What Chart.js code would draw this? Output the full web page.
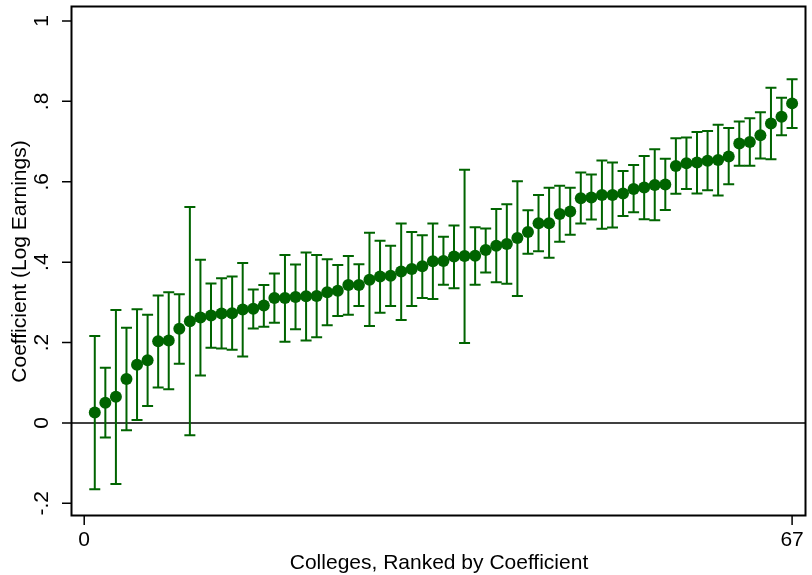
<!DOCTYPE html>
<html>
<head>
<meta charset="utf-8">
<script src="https://cdn.jsdelivr.net/npm/chart.js@4/dist/chart.umd.min.js"></script>
<style>
  html, body { margin: 0; padding: 0; background: #ffffff; }
  #wrap { width: 812px; height: 575px; }
</style>
</head>
<body>
<div id="wrap"><canvas id="c" width="812" height="575"></canvas></div>
<script>
// ---- data ----
const ranks = [1,2,3,4,5,6,7,8,9,10,11,12,13,14,15,16,17,18,19,20,21,22,23,24,25,26,27,28,29,30,31,32,33,34,35,36,37,38,39,40,41,42,43,44,45,46,47,48,49,50,51,52,53,54,55,56,57,58,59,60,61,62,63,64,65,66,67];
const coef = [0.026,0.050,0.065,0.109,0.145,0.156,0.203,0.205,0.234,0.253,
              0.262,0.267,0.272,0.273,0.282,0.284,0.292,0.311,0.311,0.313,
              0.315,0.316,0.325,0.329,0.343,0.343,0.356,0.364,0.366,0.377,
              0.383,0.390,0.402,0.403,0.414,0.415,0.416,0.430,0.441,0.445,
              0.460,0.475,0.497,0.497,0.520,0.526,0.559,0.561,0.567,0.567,
              0.571,0.582,0.586,0.592,0.593,0.639,0.646,0.648,0.652,0.654,
              0.663,0.695,0.699,0.716,0.745,0.762,0.795];
const ciHigh = [0.216,0.137,0.281,0.237,0.283,0.269,0.317,0.325,0.320,0.537,
                0.406,0.347,0.360,0.364,0.398,0.332,0.343,0.372,0.418,0.394,
                0.424,0.418,0.407,0.393,0.415,0.395,0.473,0.453,0.441,0.496,
                0.475,0.467,0.496,0.463,0.491,0.630,0.487,0.484,0.532,0.544,
                0.601,0.529,0.567,0.585,0.590,0.585,0.623,0.618,0.653,0.648,
                0.627,0.642,0.664,0.681,0.657,0.708,0.710,0.724,0.726,0.742,
                0.734,0.750,0.758,0.773,0.834,0.809,0.855];
const ciLow = [-0.165,-0.036,-0.152,-0.018,0.007,0.042,0.088,0.084,0.147,-0.031,
               0.118,0.187,0.185,0.182,0.165,0.235,0.239,0.249,0.202,0.233,
               0.205,0.213,0.243,0.266,0.269,0.291,0.241,0.274,0.291,0.256,
               0.291,0.311,0.308,0.344,0.335,0.199,0.344,0.374,0.350,0.346,
               0.316,0.421,0.427,0.411,0.451,0.468,0.496,0.506,0.483,0.486,
               0.515,0.524,0.507,0.504,0.530,0.570,0.582,0.571,0.579,0.566,
               0.594,0.640,0.640,0.658,0.656,0.716,0.734];
const xTicks = [0, 67];
const xTickLabels = ["0", "67"];
const yTicks = [-0.2, 0, 0.2, 0.4, 0.6, 0.8, 1];
const yTickLabels = ["-.2", "0", ".2", ".4", ".6", ".8", "1"];
const xTitle = "Colleges, Ranked by Coefficient";
const yTitle = "Coefficient (Log Earnings)";

// ---- styles ----
const GREEN = "#006400";
const FONT = '"Liberation Sans Narrow", "Liberation Sans", Arial, sans-serif';

const errorBars = {
  id: 'errorBars',
  beforeDatasetsDraw(chart) {
    const {ctx, scales: {x, y}, chartArea} = chart;
    ctx.save();
    // zero reference line
    ctx.strokeStyle = '#000';
    ctx.lineWidth = 1.5;
    ctx.beginPath();
    const y0 = y.getPixelForValue(0);
    ctx.moveTo(chartArea.left, y0);
    ctx.lineTo(chartArea.right, y0);
    ctx.stroke();
    // caps and whiskers
    ctx.strokeStyle = GREEN;
    ctx.lineWidth = 2;
    const cap = 5.5;
    for (let i = 0; i < ranks.length; i++) {
      const px = x.getPixelForValue(ranks[i]);
      const pHi = y.getPixelForValue(ciHigh[i]);
      const pLo = y.getPixelForValue(ciLow[i]);
      ctx.beginPath();
      ctx.moveTo(px, pHi); ctx.lineTo(px, pLo);
      ctx.moveTo(px - cap, pHi); ctx.lineTo(px + cap, pHi);
      ctx.moveTo(px - cap, pLo); ctx.lineTo(px + cap, pLo);
      ctx.stroke();
    }
    ctx.restore();
  }
};

const frameAxes = {
  id: 'frameAxes',
  beforeDraw(chart) {
    const ctx = chart.ctx;
    ctx.save();
    ctx.fillStyle = '#fff';
    ctx.fillRect(0, 0, chart.width, chart.height);
    ctx.restore();
  },
  afterDraw(chart) {
    const {ctx, scales: {x, y}, chartArea: a} = chart;
    ctx.save();
    ctx.strokeStyle = '#000';
    ctx.lineWidth = 2;
    ctx.strokeRect(a.left - 0.5, a.top - 0.5, a.right - a.left, a.bottom - a.top);
    // ticks
    ctx.lineWidth = 1.5;
    ctx.beginPath();
    yTicks.forEach(v => {
      const py = y.getPixelForValue(v);
      ctx.moveTo(a.left - 10, py); ctx.lineTo(a.left, py);
    });
    xTicks.forEach(v => {
      const px = x.getPixelForValue(v);
      ctx.moveTo(px, a.bottom); ctx.lineTo(px, a.bottom + 9);
    });
    ctx.stroke();
    // labels
    ctx.fillStyle = '#000';
    ctx.font = '21px ' + FONT;
    ctx.textAlign = 'center';
    ctx.textBaseline = 'alphabetic';
    xTicks.forEach((v, i) => {
      ctx.fillText(xTickLabels[i], x.getPixelForValue(v), 546);
    });
    yTicks.forEach((v, i) => {
      const py = y.getPixelForValue(v);
      ctx.save();
      ctx.translate(42, py);
      ctx.rotate(-Math.PI / 2);
      ctx.textBaseline = 'middle';
      ctx.fillText(yTickLabels[i], 0, 0);
      ctx.restore();
    });
    ctx.font = '21px ' + FONT;
    ctx.textBaseline = 'alphabetic';
    ctx.fillText(xTitle, (a.left + a.right) / 2, 569);
    ctx.save();
    ctx.translate(20, (a.top + a.bottom) / 2);
    ctx.rotate(-Math.PI / 2);
    ctx.textBaseline = 'middle';
    ctx.fillText(yTitle, 0, 0);
    ctx.restore();
    ctx.restore();
  }
};

new Chart(document.getElementById('c'), {
  type: 'scatter',
  data: {
    datasets: [{
      data: ranks.map((r, i) => ({x: r, y: coef[i]})),
      backgroundColor: GREEN,
      borderColor: GREEN,
      borderWidth: 0,
      pointRadius: 6,
      pointHoverRadius: 6
    }]
  },
  options: {
    responsive: false,
    animation: false,
    events: [],
    layout: { padding: { left: 72, top: 7, right: 1, bottom: 59 } },
    plugins: { legend: { display: false }, tooltip: { enabled: false } },
    scales: {
      x: { type: 'linear', display: false, min: -1.156, max: 68.316 },
      y: { type: 'linear', display: false, min: -0.2316, max: 1.0348 }
    }
  },
  plugins: [errorBars, frameAxes]
});
</script>
</body>
</html>
